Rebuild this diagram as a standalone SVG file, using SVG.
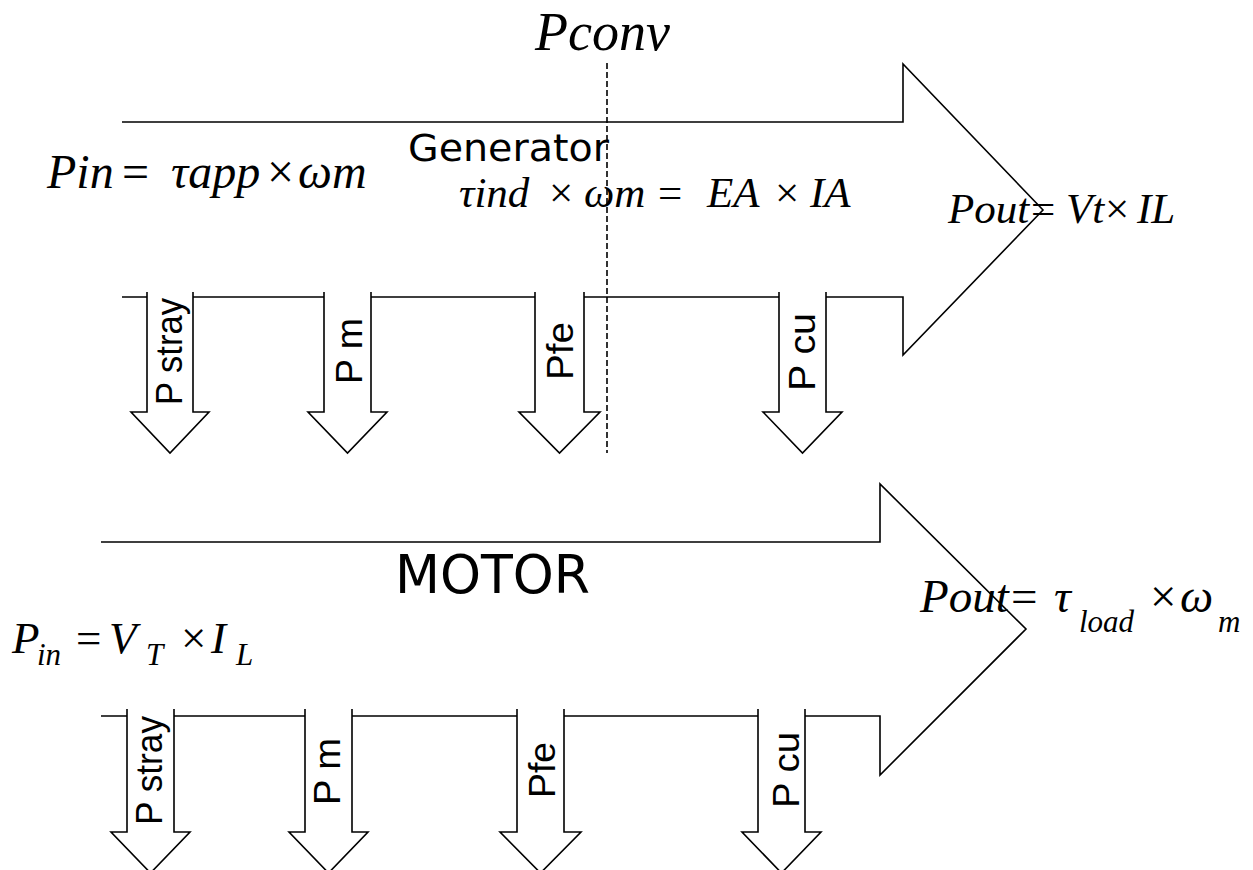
<svg xmlns="http://www.w3.org/2000/svg" width="1253" height="870" viewBox="0 0 1253 870">
<style>
.ln{fill:none;stroke:#000;stroke-width:1.6;stroke-linejoin:miter}
.dash{fill:none;stroke:#000;stroke-width:1.6;stroke-dasharray:6 3}
.m{font-family:"Liberation Serif","Times New Roman",serif;font-style:italic;fill:#000}
.u{font-style:normal}
.s{font-family:"DejaVu Sans",Verdana,sans-serif;fill:#000}
.lb{font-family:"Liberation Sans",Arial,sans-serif;font-size:36px;fill:#000}
</style>
<rect width="1253" height="870" fill="#fff"/>
<g id="connectors">
<path class="ln" d="M122,122 H903 V64 L1043,210 L903,355 V297 H826 M779,297 H584 M535,297 H371 M324,297 H193 M147,297 H122"/>
<path class="ln" d="M101,542 H880 V484 L1026,629 L880,775 V716 H805 M758,716 H564 M517,716 H352 M305,716 H174 M127,716 H101"/>
<line class="dash" x1="607" y1="63" x2="607" y2="453"/>
</g>
<g id="gen-pstray"><path class="ln" d="M147,292 V412 H131 L170,453 L209,412 H193 V292"/><text class="lb" transform="translate(182,405) rotate(-90)" textLength="107" lengthAdjust="spacingAndGlyphs">P stray</text></g>
<g id="gen-pm"><path class="ln" d="M324,292 V412 H308 L347.5,453 L387,412 H371 V292"/><text class="lb" transform="translate(362,384) rotate(-90)" textLength="66" lengthAdjust="spacingAndGlyphs">P m</text></g>
<g id="gen-pfe"><path class="ln" d="M535,292 V412 H519 L559.5,453 L600,412 H584 V292"/><text class="lb" transform="translate(573,380) rotate(-90)" textLength="58" lengthAdjust="spacingAndGlyphs">Pfe</text></g>
<g id="gen-pcu"><path class="ln" d="M779,292 V412 H763 L802.5,453 L842,412 H826 V292"/><text class="lb" transform="translate(815,391) rotate(-90)" textLength="78" lengthAdjust="spacingAndGlyphs">P cu</text></g>
<g id="mot-pstray"><path class="ln" d="M127,709 V832 H111 L150.5,873 L190,832 H174 V709"/><text class="lb" transform="translate(162,825) rotate(-90)" textLength="109" lengthAdjust="spacingAndGlyphs">P stray</text></g>
<g id="mot-pm"><path class="ln" d="M305,709 V832 H289 L328.5,873 L368,832 H352 V709"/><text class="lb" transform="translate(340,805) rotate(-90)" textLength="67" lengthAdjust="spacingAndGlyphs">P m</text></g>
<g id="mot-pfe"><path class="ln" d="M517,709 V832 H500 L540.5,873 L581,832 H564 V709"/><text class="lb" transform="translate(555,798) rotate(-90)" textLength="56" lengthAdjust="spacingAndGlyphs">Pfe</text></g>
<g id="mot-pcu"><path class="ln" d="M758,709 V832 H742 L781.5,873 L821,832 H805 V709"/><text class="lb" transform="translate(799,808) rotate(-90)" textLength="76" lengthAdjust="spacingAndGlyphs">P cu</text></g>
<g id="labels">
<text class="m" x="535" y="50" font-size="54">Pconv</text>
<text class="s" x="408" y="161" font-size="37" textLength="201" lengthAdjust="spacingAndGlyphs">Generator</text>
<text class="m" y="188" font-size="48"><tspan x="47">Pin</tspan><tspan class="u" x="122">=</tspan><tspan x="171">τapp</tspan><tspan class="u" x="267">×</tspan><tspan x="298">ωm</tspan></text>
<text class="m" y="207" font-size="43"><tspan x="459">τind</tspan><tspan class="u" x="549">×</tspan><tspan x="584">ωm</tspan><tspan class="u" x="658">=</tspan><tspan x="707">EA</tspan><tspan class="u" x="775">×</tspan><tspan x="810">IA</tspan></text>
<text class="m" y="223" font-size="43"><tspan x="948">Pout</tspan><tspan class="u" x="1031">=</tspan><tspan x="1066">Vt</tspan><tspan class="u" x="1105">×</tspan><tspan x="1137">IL</tspan></text>
<text class="s" x="395" y="593" font-size="53" textLength="195" lengthAdjust="spacingAndGlyphs">MOTOR</text>
<text class="m" font-size="45"><tspan x="12" y="653">P</tspan><tspan x="37" y="665" font-size="31">in</tspan><tspan class="u" x="76" y="653">=</tspan><tspan x="109" y="653">V</tspan><tspan x="146" y="665" font-size="31">T</tspan><tspan class="u" x="181" y="653">×</tspan><tspan x="211" y="653">I</tspan><tspan x="236" y="665" font-size="31">L</tspan></text>
<text class="m" font-size="47"><tspan x="920" y="612">Pout</tspan><tspan class="u" x="1011" y="612">=</tspan><tspan x="1054" y="612">τ</tspan><tspan x="1079" y="632" font-size="31">load</tspan><tspan class="u" x="1150" y="612">×</tspan><tspan x="1180" y="612">ω</tspan><tspan x="1218" y="632" font-size="31">m</tspan></text>
</g>
</svg>
